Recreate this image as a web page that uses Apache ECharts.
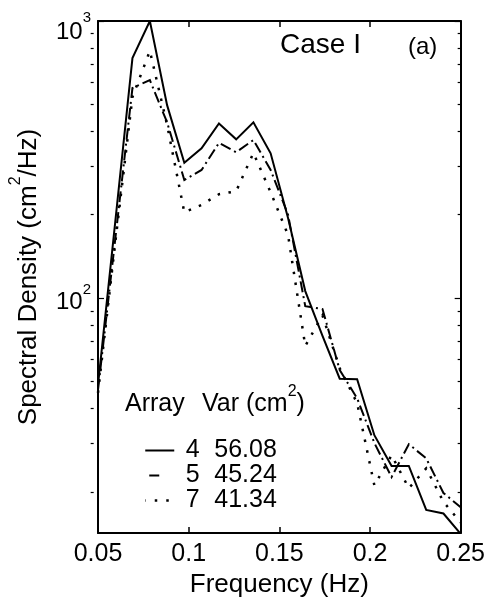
<!DOCTYPE html>
<html><head><meta charset="utf-8">
<script src="https://cdn.jsdelivr.net/npm/echarts@6/dist/echarts.min.js"></script>
<style>html,body{margin:0;padding:0;background:#fff}#c{width:488px;height:609px}</style>
</head><body><div id="c"></div>
<script>
// ---- data ----
const freq = [0.0500,0.0595,0.0690,0.0786,0.0881,0.0976,0.1071,0.1167,0.1262,0.1357,0.1452,
              0.1548,0.1643,0.1738,0.1833,0.1929,0.2024,0.2119,0.2214,0.2310,0.2405,0.2500];
const array4 = [48.5,188,735,1000,497,308,347,427,374,431,333,194.5,106,73.0,51.2,51.0,32.0,24.8,24.8,17.2,16.7,14.1];
const array5 = [46.6,163,573,612,431,267,290,363,336,372,290,200,93.5,91.3,55.0,43.5,30.0,22.6,29.7,26.4,19.8,17.6];
const array7 = [45.5,158,532,780,422,204,217,237,243,334,241,169,67.2,86.6,55.8,41.8,21.1,27.1,20.6,24.3,18.4,15.5];
const arrayNames = ['4','5','7'];
const arrayVars = ['56.08','45.24','41.34'];
const legendHeader = ['Array','Var (cm','2',')'];
const titleText = 'Case I';
const panelText = '(a)';
const xName = 'Frequency (Hz)';
const yNameParts = ['Spectral Density (cm','2','/Hz)'];
const xTicks = [0.05,0.1,0.15,0.2,0.25];
const yTicks = [100,1000];
const yTickExps = ['2','3'];
const yMinorTicks = [20,30,40,50,60,70,80,90,200,300,400,500,600,700,800,900];
const yMin = 14.2, yMax = 1000;

const FF = '"Liberation Sans", Arial, Helvetica, sans-serif';
const chart = echarts.init(document.getElementById('c'), null, {renderer:'canvas'});

const seriesData = [array4, array5, array7];
const styles = [
  {type:'solid', width:2},
  {type:[11,4,2,4], width:2},
  {type:[2.5,8.5], width:2.5}
];
const legendLineStyles = [
  {type:'solid', width:2},
  {type:[10,19], dashOffset:25, width:2},
  {type:[2.5,9], width:2.5}
];

function xAxisDef(pos, labels){
  return {
    type:'value', position:pos, min:xTicks[0], max:xTicks[xTicks.length-1], interval:0.05,
    axisLine:{show:true, onZero:false, lineStyle:{color:'#000', width:2}},
    axisTick:{show:true, inside:true, length:6, lineStyle:{color:'#000', width:1.5}},
    axisLabel:{show:labels, color:'#000', fontSize:25, fontFamily:FF, margin:9},
    splitLine:{show:false},
    name: labels ? xName : '', nameLocation:'middle', nameGap:36,
    nameTextStyle:{color:'#000', fontSize:26, fontFamily:FF}
  };
}
function yAxisDef(pos, offset, ticks, len, inside, line, labels){
  const ax = {
    type:'log', logBase:10, position:pos, offset:offset, min:yMin, max:yMax,
    axisLine:{show:line, onZero:false, lineStyle:{color:'#000', width:2}},
    axisTick:{show:true, inside:inside, length:len, customValues:ticks, lineStyle:{color:'#000', width:1.2}},
    axisLabel:{show:labels, customValues:ticks, margin:7,
      formatter:function(v){
        const k = yTicks.findIndex(t => Math.abs(t-v)/t < 1e-6);
        if (k < 0) return '';
        return k === yTicks.length - 1
          ? '{bt|10}{st|' + yTickExps[k] + '}'
          : '{b|10}{s|' + yTickExps[k] + '}';
      },
      rich:{
        b:{fontSize:24, fontFamily:FF, color:'#000', padding:[8,0,0,0]},
        s:{fontSize:15, fontFamily:FF, color:'#000', verticalAlign:'top'},
        bt:{fontSize:24, fontFamily:FF, color:'#000', padding:[22,0,0,0]},
        st:{fontSize:15, fontFamily:FF, color:'#000', verticalAlign:'top', padding:[12,0,0,0]}
      }
    },
    splitLine:{show:false}, minorTick:{show:false}
  };
  if (labels) {
    ax.name = '{n|' + yNameParts[0] + '}{s|' + yNameParts[1] + '}{n|' + yNameParts[2] + '}';
    ax.nameLocation = 'middle';
    ax.nameGap = 56;
    ax.nameTextStyle = {color:'#000', fontFamily:FF, fontSize:26,
      rich:{ n:{fontSize:26, fontFamily:FF, color:'#000', padding:[8,0,0,0]},
             s:{fontSize:16, fontFamily:FF, color:'#000', verticalAlign:'top'} } };
  }
  return ax;
}

chart.setOption({
  animation:false,
  backgroundColor:'#fff',
  color:['#000','#000','#000'],
  grid:{left:97, right:21, top:21, bottom:76, containLabel:false},
  xAxis:[xAxisDef('bottom', true), xAxisDef('top', false)],
  yAxis:[
    yAxisDef('left', 0, yTicks, 6, true, true, true),
    yAxisDef('right', 0, yTicks, 6, true, true, false),
    yAxisDef('right', -370, yMinorTicks, 3, false, false, false),
    yAxisDef('right', 0, yMinorTicks, 3, true, false, false)
  ],
  legend:{
    orient:'vertical', left:139, top:433, itemWidth:29, itemHeight:14, itemGap:0,
    selectedMode:false,
    itemStyle:{opacity:0},
    data: arrayNames.map((nm, i) => ({name:nm, itemStyle:{opacity:0},
      lineStyle:Object.assign({color:'#000'}, legendLineStyles[i])})),
    formatter:function(name){
      const i = arrayNames.indexOf(name);
      return '{a|' + name + '}{b|' + arrayVars[i] + '}';
    },
    textStyle:{color:'#000', fontSize:25, fontFamily:FF, lineHeight:23.5,
      rich:{ a:{fontSize:25, fontFamily:FF, color:'#000', width:27, align:'right', lineHeight:23.5},
             b:{fontSize:25, fontFamily:FF, color:'#000', padding:[0,0,0,8], lineHeight:23.5} } }
  },
  graphic:[
    {type:'text', left:280, top:31, style:{text:titleText, fontSize:28, fontFamily:FF, fill:'#000'}},
    {type:'text', left:408, top:35, style:{text:panelText, fontSize:24, fontFamily:FF, fill:'#000'}},
    {type:'text', left:125, top:392, style:{text:legendHeader[0], fontSize:25, fontFamily:FF, fill:'#000'}},
    {type:'text', left:202, top:384, style:{
      text:'{n|' + legendHeader[1] + '}{s|' + legendHeader[2] + '}{n|' + legendHeader[3] + '}',
      rich:{ n:{fontSize:25, fontFamily:FF, fill:'#000', padding:[8,0,0,0]},
             s:{fontSize:16, fontFamily:FF, fill:'#000', verticalAlign:'top'} } }}
  ],
  series: arrayNames.map((nm, si) => ({
    name:nm, type:'line', xAxisIndex:0, yAxisIndex:0, symbol:'none', showSymbol:false,
    clip:true, silent:true,
    itemStyle:{color:'#000'},
    lineStyle:{color:'#000', width:styles[si].width, type:styles[si].type, cap:'butt', join:'miter'},
    data: freq.map((f,i) => [f, seriesData[si][i]])
  }))
});
</script></body></html>
